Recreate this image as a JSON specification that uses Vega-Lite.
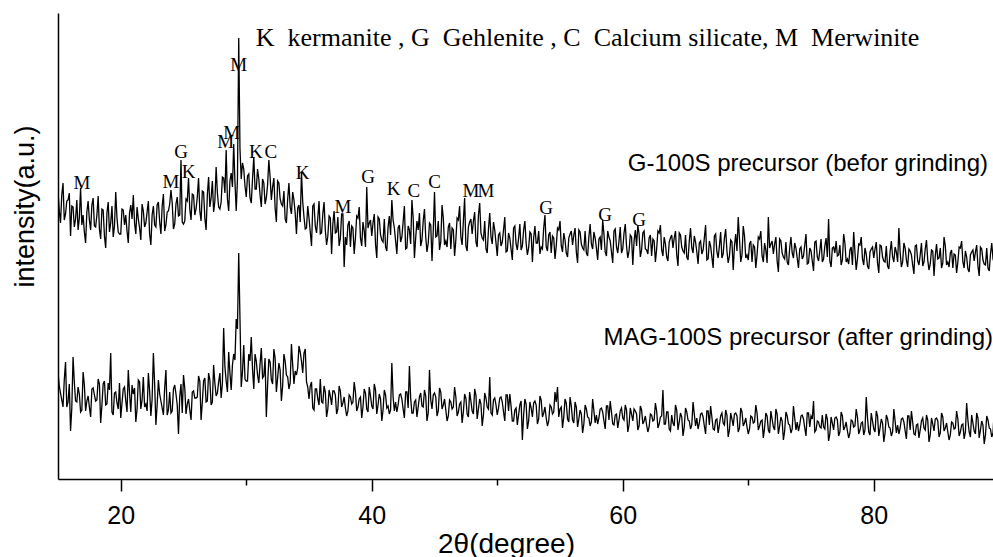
{
  "$schema": "https://vega.github.io/schema/vega-lite/v6.json",
  "width": 935,
  "height": 466,
  "autosize": {"type": "none"},
  "padding": {"left": 58, "top": 13, "right": 0, "bottom": 78},
  "background": "white",
  "config": {"view": {"stroke": null}, "axis": {"grid": false}},
  "datasets": {
    "xrd": [
      {"x":15,"a":288,"b":107},{"x":15.2,"a":256,"b":86},{"x":15.4,"a":296,"b":72},{"x":15.6,"a":265,"b":117},{"x":15.8,"a":279,"b":77},
      {"x":16,"a":243,"b":48},{"x":16.2,"a":272,"b":122},{"x":16.4,"a":260,"b":78},{"x":16.6,"a":249,"b":92},{"x":16.8,"a":291,"b":67},
      {"x":17,"a":264,"b":107},{"x":17.2,"a":236,"b":68},{"x":17.4,"a":278,"b":83},{"x":17.6,"a":249,"b":62},{"x":17.8,"a":281,"b":91},
      {"x":18,"a":252,"b":78},{"x":18.2,"a":283,"b":100},{"x":18.4,"a":240,"b":56},{"x":18.6,"a":269,"b":95},{"x":18.8,"a":231,"b":74},
      {"x":19,"a":277,"b":96},{"x":19.2,"a":256,"b":126},{"x":19.4,"a":242,"b":64},{"x":19.6,"a":287,"b":87},{"x":19.8,"a":247,"b":70},
      {"x":20,"a":245,"b":61},{"x":20.2,"a":269,"b":90},{"x":20.4,"a":264,"b":78},{"x":20.6,"a":236,"b":109},{"x":20.8,"a":274,"b":67},
      {"x":21,"a":284,"b":85},{"x":21.2,"a":245,"b":57},{"x":21.4,"a":260,"b":99},{"x":21.6,"a":239,"b":70},{"x":21.8,"a":268,"b":102},
      {"x":22,"a":256,"b":75},{"x":22.2,"a":278,"b":106},{"x":22.4,"a":234,"b":63},{"x":22.6,"a":273,"b":126},{"x":22.8,"a":252,"b":54},
      {"x":23,"a":277,"b":99},{"x":23.2,"a":245,"b":78},{"x":23.4,"a":285,"b":64},{"x":23.6,"a":254,"b":109},{"x":23.8,"a":268,"b":69},
      {"x":24,"a":289,"b":66},{"x":24.2,"a":250,"b":90},{"x":24.4,"a":275,"b":85},{"x":24.6,"a":263,"b":45},{"x":24.8,"a":319,"b":95},
      {"x":25,"a":255,"b":104},{"x":25.2,"a":280,"b":65},{"x":25.4,"a":301,"b":80},{"x":25.6,"a":259,"b":59},{"x":25.8,"a":284,"b":88},
      {"x":26,"a":270,"b":81},{"x":26.2,"a":301,"b":103},{"x":26.4,"a":258,"b":59},{"x":26.6,"a":287,"b":98},{"x":26.8,"a":249,"b":77},
      {"x":27,"a":302,"b":106},{"x":27.2,"a":281,"b":74},{"x":27.4,"a":267,"b":114},{"x":27.6,"a":312,"b":83},{"x":27.8,"a":272,"b":97},
      {"x":28,"a":277,"b":81},{"x":28.2,"a":301,"b":151},{"x":28.4,"a":329,"b":98},{"x":28.6,"a":268,"b":127},{"x":28.8,"a":306,"b":89},
      {"x":29,"a":335,"b":125},{"x":29.2,"a":268,"b":160},{"x":29.4,"a":441,"b":226},{"x":29.6,"a":300,"b":92},{"x":29.8,"a":310,"b":134},
      {"x":30,"a":282,"b":98},{"x":30.2,"a":305,"b":125},{"x":30.4,"a":276,"b":142},{"x":30.6,"a":322,"b":90},{"x":30.8,"a":290,"b":118},
      {"x":31,"a":300,"b":96},{"x":31.2,"a":272,"b":131},{"x":31.4,"a":296,"b":103},{"x":31.6,"a":281,"b":62},{"x":31.8,"a":319,"b":120},
      {"x":32,"a":279,"b":99},{"x":32.2,"a":301,"b":130},{"x":32.4,"a":257,"b":87},{"x":32.6,"a":296,"b":116},{"x":32.8,"a":275,"b":78},
      {"x":33,"a":288,"b":125},{"x":33.2,"a":256,"b":104},{"x":33.4,"a":296,"b":90},{"x":33.6,"a":265,"b":135},{"x":33.8,"a":279,"b":95},
      {"x":34,"a":245,"b":104},{"x":34.2,"a":274,"b":133},{"x":34.4,"a":307,"b":118},{"x":34.6,"a":262,"b":126},{"x":34.8,"a":251,"b":97},
      {"x":35,"a":261,"b":80},{"x":35.2,"a":233,"b":97},{"x":35.4,"a":275,"b":69},{"x":35.6,"a":246,"b":90},{"x":35.8,"a":278,"b":74},
      {"x":36,"a":246,"b":77},{"x":36.2,"a":277,"b":93},{"x":36.4,"a":234,"b":62},{"x":36.6,"a":263,"b":89},{"x":36.8,"a":225,"b":74},
      {"x":37,"a":268,"b":88},{"x":37.2,"a":247,"b":65},{"x":37.4,"a":233,"b":93},{"x":37.6,"a":265,"b":72},{"x":37.8,"a":212,"b":82},
      {"x":38,"a":234,"b":63},{"x":38.2,"a":258,"b":84},{"x":38.4,"a":253,"b":75},{"x":38.6,"a":225,"b":97},{"x":38.8,"a":263,"b":68},
      {"x":39,"a":272,"b":80},{"x":39.2,"a":233,"b":61},{"x":39.4,"a":248,"b":90},{"x":39.6,"a":292,"b":70},{"x":39.8,"a":256,"b":92},
      {"x":40,"a":243,"b":73},{"x":40.2,"a":265,"b":95},{"x":40.4,"a":221,"b":65},{"x":40.6,"a":260,"b":85},{"x":40.8,"a":239,"b":58},
      {"x":41,"a":260,"b":89},{"x":41.2,"a":228,"b":71},{"x":41.4,"a":263,"b":65},{"x":41.6,"a":279,"b":116},{"x":41.8,"a":251,"b":68},
      {"x":42,"a":225,"b":67},{"x":42.2,"a":254,"b":84},{"x":42.4,"a":242,"b":80},{"x":42.6,"a":273,"b":61},{"x":42.8,"a":231,"b":87},
      {"x":43,"a":249,"b":113},{"x":43.2,"a":279,"b":66},{"x":43.4,"a":221,"b":77},{"x":43.6,"a":258,"b":62},{"x":43.8,"a":266,"b":82},
      {"x":44,"a":239,"b":73},{"x":44.2,"a":270,"b":89},{"x":44.4,"a":227,"b":58},{"x":44.6,"a":256,"b":109},{"x":44.8,"a":218,"b":70},
      {"x":45,"a":287,"b":86},{"x":45.2,"a":243,"b":63},{"x":45.4,"a":229,"b":91},{"x":45.6,"a":274,"b":70},{"x":45.8,"a":234,"b":80},
      {"x":46,"a":232,"b":58},{"x":46.2,"a":256,"b":79},{"x":46.4,"a":251,"b":70},{"x":46.6,"a":223,"b":92},{"x":46.8,"a":261,"b":63},
      {"x":47,"a":273,"b":75},{"x":47.2,"a":234,"b":56},{"x":47.4,"a":281,"b":85},{"x":47.6,"a":228,"b":65},{"x":47.8,"a":257,"b":87},
      {"x":48,"a":245,"b":68},{"x":48.2,"a":267,"b":90},{"x":48.4,"a":232,"b":60},{"x":48.6,"a":276,"b":80},{"x":48.8,"a":241,"b":53},
      {"x":49,"a":258,"b":86},{"x":49.2,"a":226,"b":72},{"x":49.4,"a":266,"b":102},{"x":49.6,"a":235,"b":64},{"x":49.8,"a":249,"b":81},
      {"x":50,"a":223,"b":64},{"x":50.2,"a":246,"b":81},{"x":50.4,"a":237,"b":77},{"x":50.6,"a":262,"b":58},{"x":50.8,"a":228,"b":84},
      {"x":51,"a":241,"b":85},{"x":51.2,"a":219,"b":58},{"x":51.4,"a":253,"b":69},{"x":51.6,"a":229,"b":54},{"x":51.8,"a":255,"b":74},
      {"x":52,"a":233,"b":39},{"x":52.2,"a":258,"b":80},{"x":52.4,"a":224,"b":50},{"x":52.6,"a":247,"b":77},{"x":52.8,"a":217,"b":62},
      {"x":53,"a":253,"b":78},{"x":53.2,"a":236,"b":55},{"x":53.4,"a":225,"b":83},{"x":53.6,"a":230,"b":62},{"x":53.8,"a":264,"b":72},
      {"x":54,"a":228,"b":53},{"x":54.2,"a":247,"b":74},{"x":54.4,"a":243,"b":65},{"x":54.6,"a":220,"b":87},{"x":54.8,"a":251,"b":92},
      {"x":55,"a":258,"b":70},{"x":55.2,"a":227,"b":51},{"x":55.4,"a":239,"b":80},{"x":55.6,"a":222,"b":60},{"x":55.8,"a":245,"b":82},
      {"x":56,"a":234,"b":59},{"x":56.2,"a":251,"b":77},{"x":56.4,"a":216,"b":52},{"x":56.6,"a":247,"b":69},{"x":56.8,"a":231,"b":46},
      {"x":57,"a":248,"b":74},{"x":57.2,"a":223,"b":62},{"x":57.4,"a":255,"b":53},{"x":57.6,"a":230,"b":80},{"x":57.8,"a":241,"b":56},
      {"x":58,"a":219,"b":55},{"x":58.2,"a":242,"b":70},{"x":58.4,"a":259,"b":67},{"x":58.6,"a":227,"b":50},{"x":58.8,"a":248,"b":73},
      {"x":59,"a":238,"b":78},{"x":59.2,"a":216,"b":55},{"x":59.4,"a":250,"b":64},{"x":59.6,"a":226,"b":51},{"x":59.8,"a":252,"b":68},
      {"x":60,"a":230,"b":61},{"x":60.2,"a":255,"b":74},{"x":60.4,"a":221,"b":47},{"x":60.6,"a":244,"b":71},{"x":60.8,"a":214,"b":58},
      {"x":61,"a":249,"b":68},{"x":61.2,"a":254,"b":49},{"x":61.4,"a":222,"b":73},{"x":61.6,"a":246,"b":55},{"x":61.8,"a":230,"b":63},
      {"x":62,"a":225,"b":47},{"x":62.2,"a":244,"b":65},{"x":62.4,"a":240,"b":58},{"x":62.6,"a":217,"b":76},{"x":62.8,"a":248,"b":51},
      {"x":63,"a":254,"b":62},{"x":63.2,"a":223,"b":89},{"x":63.4,"a":235,"b":55},{"x":63.6,"a":218,"b":67},{"x":63.8,"a":241,"b":48},
      {"x":64,"a":231,"b":56},{"x":64.2,"a":248,"b":74},{"x":64.4,"a":213,"b":49},{"x":64.6,"a":244,"b":66},{"x":64.8,"a":228,"b":43},
      {"x":65,"a":244,"b":71},{"x":65.2,"a":219,"b":59},{"x":65.4,"a":251,"b":50},{"x":65.6,"a":226,"b":77},{"x":65.8,"a":237,"b":53},
      {"x":66,"a":215,"b":50},{"x":66.2,"a":238,"b":65},{"x":66.4,"a":229,"b":62},{"x":66.6,"a":254,"b":45},{"x":66.8,"a":220,"b":68},
      {"x":67,"a":233,"b":73},{"x":67.2,"a":211,"b":50},{"x":67.4,"a":245,"b":59},{"x":67.6,"a":221,"b":46},{"x":67.8,"a":247,"b":63},
      {"x":68,"a":225,"b":56},{"x":68.2,"a":250,"b":69},{"x":68.4,"a":216,"b":42},{"x":68.6,"a":239,"b":66},{"x":68.8,"a":209,"b":53},
      {"x":69,"a":245,"b":66},{"x":69.2,"a":262,"b":47},{"x":69.4,"a":217,"b":71},{"x":69.6,"a":253,"b":53},{"x":69.8,"a":221,"b":61},
      {"x":70,"a":219,"b":45},{"x":70.2,"a":238,"b":63},{"x":70.4,"a":234,"b":56},{"x":70.6,"a":211,"b":74},{"x":70.8,"a":242,"b":49},
      {"x":71,"a":248,"b":58},{"x":71.2,"a":217,"b":41},{"x":71.4,"a":229,"b":66},{"x":71.6,"a":262,"b":49},{"x":71.8,"a":235,"b":68},
      {"x":72,"a":225,"b":52},{"x":72.2,"a":242,"b":70},{"x":72.4,"a":207,"b":45},{"x":72.6,"a":238,"b":62},{"x":72.8,"a":222,"b":39},
      {"x":73,"a":237,"b":67},{"x":73.2,"a":214,"b":55},{"x":73.4,"a":242,"b":46},{"x":73.6,"a":221,"b":73},{"x":73.8,"a":231,"b":49},
      {"x":74,"a":211,"b":48},{"x":74.2,"a":232,"b":63},{"x":74.4,"a":223,"b":60},{"x":74.6,"a":245,"b":43},{"x":74.8,"a":216,"b":66},
      {"x":75,"a":228,"b":63},{"x":75.2,"a":208,"b":78},{"x":75.4,"a":238,"b":49},{"x":75.6,"a":218,"b":57},{"x":75.8,"a":240,"b":51},
      {"x":76,"a":220,"b":52},{"x":76.2,"a":241,"b":65},{"x":76.4,"a":260,"b":38},{"x":76.6,"a":212,"b":62},{"x":76.8,"a":232,"b":49},
      {"x":77,"a":238,"b":62},{"x":77.2,"a":224,"b":43},{"x":77.4,"a":214,"b":67},{"x":77.6,"a":245,"b":49},{"x":77.8,"a":217,"b":57},
      {"x":78,"a":215,"b":41},{"x":78.2,"a":232,"b":59},{"x":78.4,"a":247,"b":52},{"x":78.6,"a":209,"b":70},{"x":78.8,"a":235,"b":45},
      {"x":79,"a":242,"b":56},{"x":79.2,"a":214,"b":44},{"x":79.4,"a":225,"b":82},{"x":79.6,"a":210,"b":47},{"x":79.8,"a":230,"b":66},
      {"x":80,"a":221,"b":50},{"x":80.2,"a":237,"b":68},{"x":80.4,"a":206,"b":43},{"x":80.6,"a":233,"b":60},{"x":80.8,"a":218,"b":37},
      {"x":81,"a":233,"b":64},{"x":81.2,"a":210,"b":52},{"x":81.4,"a":238,"b":43},{"x":81.6,"a":217,"b":70},{"x":81.8,"a":227,"b":46},
      {"x":82,"a":251,"b":45},{"x":82.2,"a":212,"b":60},{"x":82.4,"a":236,"b":57},{"x":82.6,"a":219,"b":40},{"x":82.8,"a":230,"b":63},
      {"x":83,"a":224,"b":68},{"x":83.2,"a":205,"b":45},{"x":83.4,"a":234,"b":54},{"x":83.6,"a":214,"b":41},{"x":83.8,"a":236,"b":58},
      {"x":84,"a":217,"b":51},{"x":84.2,"a":239,"b":64},{"x":84.4,"a":209,"b":37},{"x":84.6,"a":229,"b":61},{"x":84.8,"a":203,"b":48},
      {"x":85,"a":235,"b":61},{"x":85.2,"a":221,"b":42},{"x":85.4,"a":211,"b":66},{"x":85.6,"a":242,"b":48},{"x":85.8,"a":214,"b":56},
      {"x":86,"a":212,"b":39},{"x":86.2,"a":229,"b":57},{"x":86.4,"a":225,"b":50},{"x":86.6,"a":206,"b":68},{"x":86.8,"a":232,"b":43},
      {"x":87,"a":238,"b":54},{"x":87.2,"a":211,"b":40},{"x":87.4,"a":222,"b":76},{"x":87.6,"a":207,"b":47},{"x":87.8,"a":227,"b":64},
      {"x":88,"a":218,"b":48},{"x":88.2,"a":234,"b":66},{"x":88.4,"a":203,"b":41},{"x":88.6,"a":230,"b":58},{"x":88.8,"a":215,"b":35},
      {"x":89,"a":231,"b":63},{"x":89.2,"a":208,"b":51},{"x":89.4,"a":236,"b":42},{"x":89.6,"a":216,"b":69},
      {"x":15.1,"a":268,"b":93},{"x":15.3,"a":284,"b":79},{"x":15.5,"a":259,"b":99},{"x":15.7,"a":278,"b":72},{"x":15.9,"a":286,"b":95},
      {"x":16.1,"a":273,"b":71},{"x":16.3,"a":252,"b":97},{"x":16.5,"a":279,"b":77},{"x":16.7,"a":261,"b":85},{"x":16.9,"a":254,"b":69},
      {"x":17.1,"a":247,"b":94},{"x":17.3,"a":267,"b":78},{"x":17.5,"a":259,"b":72},{"x":17.7,"a":274,"b":90},{"x":17.9,"a":253,"b":84},
      {"x":18.1,"a":264,"b":79},{"x":18.3,"a":250,"b":95},{"x":18.5,"a":270,"b":74},{"x":18.7,"a":243,"b":98},{"x":18.9,"a":266,"b":75},
      {"x":19.1,"a":247,"b":89},{"x":19.3,"a":273,"b":67},{"x":19.5,"a":253,"b":86},{"x":19.7,"a":261,"b":76},{"x":19.9,"a":245,"b":96},
      {"x":20.1,"a":270,"b":76},{"x":20.3,"a":254,"b":92},{"x":20.5,"a":248,"b":67},{"x":20.7,"a":266,"b":86},{"x":20.9,"a":260,"b":94},
      {"x":21.1,"a":256,"b":91},{"x":21.3,"a":272,"b":70},{"x":21.5,"a":251,"b":97},{"x":21.7,"a":275,"b":79},{"x":21.9,"a":252,"b":72},
      {"x":22.1,"a":267,"b":68},{"x":22.3,"a":245,"b":88},{"x":22.5,"a":264,"b":80},{"x":22.7,"a":254,"b":95},{"x":22.9,"a":274,"b":74},
      {"x":23.1,"a":257,"b":85},{"x":23.3,"a":273,"b":71},{"x":23.5,"a":248,"b":91},{"x":23.7,"a":267,"b":64},{"x":23.9,"a":275,"b":87},
      {"x":24.1,"a":276,"b":68},{"x":24.3,"a":255,"b":94},{"x":24.5,"a":282,"b":74},{"x":24.7,"a":264,"b":82},{"x":24.9,"a":257,"b":66},
      {"x":25.1,"a":258,"b":91},{"x":25.3,"a":278,"b":75},{"x":25.5,"a":270,"b":69},{"x":25.7,"a":285,"b":87},{"x":25.9,"a":264,"b":81},
      {"x":26.1,"a":282,"b":82},{"x":26.3,"a":268,"b":98},{"x":26.5,"a":288,"b":77},{"x":26.7,"a":261,"b":101},{"x":26.9,"a":284,"b":78},
      {"x":27.1,"a":272,"b":99},{"x":27.3,"a":298,"b":77},{"x":27.5,"a":278,"b":96},{"x":27.7,"a":286,"b":86},{"x":27.9,"a":270,"b":106},
      {"x":28.1,"a":302,"b":96},{"x":28.3,"a":286,"b":112},{"x":28.5,"a":280,"b":87},{"x":28.7,"a":298,"b":106},{"x":28.9,"a":292,"b":114},
      {"x":29.1,"a":297,"b":119},{"x":29.3,"a":300,"b":150},{"x":29.5,"a":330,"b":160},{"x":29.7,"a":316,"b":107},{"x":29.9,"a":293,"b":100},
      {"x":30.1,"a":303,"b":98},{"x":30.3,"a":281,"b":118},{"x":30.5,"a":300,"b":110},{"x":30.7,"a":290,"b":125},{"x":30.9,"a":310,"b":104},
      {"x":31.1,"a":284,"b":115},{"x":31.3,"a":300,"b":101},{"x":31.5,"a":275,"b":121},{"x":31.7,"a":294,"b":94},{"x":31.9,"a":302,"b":117},
      {"x":32.1,"a":292,"b":95},{"x":32.3,"a":271,"b":121},{"x":32.5,"a":298,"b":101},{"x":32.7,"a":280,"b":109},{"x":32.9,"a":273,"b":93},
      {"x":33.1,"a":260,"b":118},{"x":33.3,"a":280,"b":102},{"x":33.5,"a":272,"b":96},{"x":33.7,"a":287,"b":114},{"x":33.9,"a":266,"b":108},
      {"x":34.1,"a":271,"b":111},{"x":34.3,"a":257,"b":127},{"x":34.5,"a":277,"b":106},{"x":34.7,"a":250,"b":130},{"x":34.9,"a":273,"b":92},
      {"x":35.1,"a":247,"b":93},{"x":35.3,"a":273,"b":71},{"x":35.5,"a":253,"b":90},{"x":35.7,"a":261,"b":80},{"x":35.9,"a":245,"b":100},
      {"x":36.1,"a":265,"b":76},{"x":36.3,"a":249,"b":87},{"x":36.5,"a":243,"b":70},{"x":36.7,"a":261,"b":83},{"x":36.9,"a":255,"b":88},
      {"x":37.1,"a":246,"b":84},{"x":37.3,"a":262,"b":70},{"x":37.5,"a":241,"b":88},{"x":37.7,"a":265,"b":76},{"x":37.9,"a":242,"b":71},
      {"x":38.1,"a":254,"b":68},{"x":38.3,"a":232,"b":82},{"x":38.5,"a":251,"b":77},{"x":38.7,"a":241,"b":87},{"x":38.9,"a":261,"b":72},
      {"x":39.1,"a":241,"b":82},{"x":39.3,"a":257,"b":72},{"x":39.5,"a":232,"b":86},{"x":39.7,"a":251,"b":67},{"x":39.9,"a":259,"b":83},
      {"x":40.1,"a":256,"b":70},{"x":40.3,"a":235,"b":89},{"x":40.5,"a":262,"b":74},{"x":40.7,"a":244,"b":80},{"x":40.9,"a":237,"b":69},
      {"x":41.1,"a":232,"b":84},{"x":41.3,"a":252,"b":73},{"x":41.5,"a":244,"b":69},{"x":41.7,"a":259,"b":82},{"x":41.9,"a":238,"b":77},
      {"x":42.1,"a":251,"b":74},{"x":42.3,"a":237,"b":85},{"x":42.5,"a":257,"b":70},{"x":42.7,"a":230,"b":87},{"x":42.9,"a":253,"b":71},
      {"x":43.1,"a":235,"b":81},{"x":43.3,"a":261,"b":66},{"x":43.5,"a":241,"b":79},{"x":43.7,"a":249,"b":72},{"x":43.9,"a":233,"b":86},
      {"x":44.1,"a":258,"b":72},{"x":44.3,"a":242,"b":83},{"x":44.5,"a":236,"b":66},{"x":44.7,"a":254,"b":79},{"x":44.9,"a":248,"b":84},
      {"x":45.1,"a":242,"b":82},{"x":45.3,"a":258,"b":68},{"x":45.5,"a":237,"b":87},{"x":45.7,"a":261,"b":74},{"x":45.9,"a":238,"b":69},
      {"x":46.1,"a":252,"b":63},{"x":46.3,"a":230,"b":77},{"x":46.5,"a":249,"b":72},{"x":46.7,"a":239,"b":82},{"x":46.9,"a":259,"b":67},
      {"x":47.1,"a":242,"b":77},{"x":47.3,"a":258,"b":67},{"x":47.5,"a":233,"b":81},{"x":47.7,"a":252,"b":62},{"x":47.9,"a":260,"b":78},
      {"x":48.1,"a":258,"b":65},{"x":48.3,"a":237,"b":84},{"x":48.5,"a":264,"b":70},{"x":48.7,"a":246,"b":75},{"x":48.9,"a":239,"b":64},
      {"x":49.1,"a":230,"b":81},{"x":49.3,"a":250,"b":70},{"x":49.5,"a":242,"b":66},{"x":49.7,"a":257,"b":79},{"x":49.9,"a":236,"b":74},
      {"x":50.1,"a":244,"b":71},{"x":50.3,"a":233,"b":82},{"x":50.5,"a":249,"b":67},{"x":50.7,"a":227,"b":84},{"x":50.9,"a":246,"b":68},
      {"x":51.1,"a":230,"b":73},{"x":51.3,"a":251,"b":58},{"x":51.5,"a":235,"b":71},{"x":51.7,"a":241,"b":64},{"x":51.9,"a":229,"b":78},
      {"x":52.1,"a":249,"b":64},{"x":52.3,"a":236,"b":75},{"x":52.5,"a":231,"b":58},{"x":52.7,"a":245,"b":71},{"x":52.9,"a":241,"b":76},
      {"x":53.1,"a":236,"b":74},{"x":53.3,"a":248,"b":60},{"x":53.5,"a":232,"b":79},{"x":53.7,"a":251,"b":66},{"x":53.9,"a":232,"b":61},
      {"x":54.1,"a":244,"b":58},{"x":54.3,"a":226,"b":72},{"x":54.5,"a":241,"b":67},{"x":54.7,"a":233,"b":77},{"x":54.9,"a":249,"b":62},
      {"x":55.1,"a":233,"b":72},{"x":55.3,"a":246,"b":62},{"x":55.5,"a":226,"b":76},{"x":55.7,"a":241,"b":57},{"x":55.9,"a":248,"b":73},
      {"x":56.1,"a":244,"b":56},{"x":56.3,"a":227,"b":72},{"x":56.5,"a":249,"b":60},{"x":56.7,"a":235,"b":65},{"x":56.9,"a":229,"b":55},
      {"x":57.1,"a":226,"b":70},{"x":57.3,"a":242,"b":61},{"x":57.5,"a":235,"b":57},{"x":57.7,"a":247,"b":68},{"x":57.9,"a":231,"b":64},
      {"x":58.1,"a":240,"b":61},{"x":58.3,"a":229,"b":71},{"x":58.5,"a":245,"b":58},{"x":58.7,"a":223,"b":73},{"x":58.9,"a":242,"b":59},
      {"x":59.1,"a":227,"b":67},{"x":59.3,"a":248,"b":54},{"x":59.5,"a":232,"b":65},{"x":59.7,"a":238,"b":59},{"x":59.9,"a":226,"b":71},
      {"x":60.1,"a":246,"b":59},{"x":60.3,"a":233,"b":69},{"x":60.5,"a":228,"b":54},{"x":60.7,"a":242,"b":65},{"x":60.9,"a":238,"b":70},
      {"x":61.1,"a":233,"b":65},{"x":61.3,"a":245,"b":53},{"x":61.5,"a":229,"b":69},{"x":61.7,"a":248,"b":58},{"x":61.9,"a":229,"b":54},
      {"x":62.1,"a":241,"b":52},{"x":62.3,"a":223,"b":64},{"x":62.5,"a":238,"b":59},{"x":62.7,"a":230,"b":68},{"x":62.9,"a":246,"b":55},
      {"x":63.1,"a":229,"b":63},{"x":63.3,"a":242,"b":55},{"x":63.5,"a":222,"b":67},{"x":63.7,"a":237,"b":50},{"x":63.9,"a":244,"b":64},
      {"x":64.1,"a":241,"b":53},{"x":64.3,"a":224,"b":69},{"x":64.5,"a":246,"b":57},{"x":64.7,"a":232,"b":62},{"x":64.9,"a":226,"b":52},
      {"x":65.1,"a":222,"b":67},{"x":65.3,"a":238,"b":58},{"x":65.5,"a":231,"b":54},{"x":65.7,"a":243,"b":65},{"x":65.9,"a":227,"b":61},
      {"x":66.1,"a":236,"b":56},{"x":66.3,"a":225,"b":66},{"x":66.5,"a":241,"b":53},{"x":66.7,"a":219,"b":68},{"x":66.9,"a":238,"b":54},
      {"x":67.1,"a":222,"b":62},{"x":67.3,"a":243,"b":49},{"x":67.5,"a":227,"b":60},{"x":67.7,"a":233,"b":54},{"x":67.9,"a":221,"b":66},
      {"x":68.1,"a":241,"b":54},{"x":68.3,"a":228,"b":64},{"x":68.5,"a":223,"b":49},{"x":68.7,"a":237,"b":60},{"x":68.9,"a":233,"b":65},
      {"x":69.1,"a":228,"b":63},{"x":69.3,"a":240,"b":51},{"x":69.5,"a":224,"b":67},{"x":69.7,"a":243,"b":56},{"x":69.9,"a":224,"b":52},
      {"x":70.1,"a":235,"b":50},{"x":70.3,"a":217,"b":62},{"x":70.5,"a":232,"b":57},{"x":70.7,"a":224,"b":66},{"x":70.9,"a":240,"b":53},
      {"x":71.1,"a":223,"b":59},{"x":71.3,"a":236,"b":51},{"x":71.5,"a":216,"b":63},{"x":71.7,"a":231,"b":46},{"x":71.9,"a":238,"b":60},
      {"x":72.1,"a":235,"b":49},{"x":72.3,"a":218,"b":65},{"x":72.5,"a":240,"b":53},{"x":72.7,"a":226,"b":58},{"x":72.9,"a":220,"b":48},
      {"x":73.1,"a":217,"b":63},{"x":73.3,"a":231,"b":54},{"x":73.5,"a":226,"b":50},{"x":73.7,"a":236,"b":61},{"x":73.9,"a":221,"b":57},
      {"x":74.1,"a":230,"b":54},{"x":74.3,"a":220,"b":64},{"x":74.5,"a":234,"b":51},{"x":74.7,"a":215,"b":66},{"x":74.9,"a":231,"b":52},
      {"x":75.1,"a":218,"b":60},{"x":75.3,"a":237,"b":47},{"x":75.5,"a":222,"b":58},{"x":75.7,"a":228,"b":52},{"x":75.9,"a":217,"b":64},
      {"x":76.1,"a":233,"b":50},{"x":76.3,"a":222,"b":60},{"x":76.5,"a":218,"b":45},{"x":76.7,"a":231,"b":56},{"x":76.9,"a":226,"b":61},
      {"x":77.1,"a":223,"b":59},{"x":77.3,"a":234,"b":47},{"x":77.5,"a":219,"b":63},{"x":77.7,"a":236,"b":52},{"x":77.9,"a":220,"b":48},
      {"x":78.1,"a":229,"b":46},{"x":78.3,"a":214,"b":58},{"x":78.5,"a":227,"b":53},{"x":78.7,"a":220,"b":62},{"x":78.9,"a":234,"b":49},
      {"x":79.1,"a":220,"b":57},{"x":79.3,"a":231,"b":49},{"x":79.5,"a":213,"b":61},{"x":79.7,"a":227,"b":44},{"x":79.9,"a":232,"b":58},
      {"x":80.1,"a":230,"b":47},{"x":80.3,"a":216,"b":63},{"x":80.5,"a":234,"b":51},{"x":80.7,"a":222,"b":56},{"x":80.9,"a":217,"b":46},
      {"x":81.1,"a":213,"b":60},{"x":81.3,"a":227,"b":51},{"x":81.5,"a":222,"b":47},{"x":81.7,"a":232,"b":58},{"x":81.9,"a":217,"b":54},
      {"x":82.1,"a":227,"b":51},{"x":82.3,"a":217,"b":61},{"x":82.5,"a":231,"b":48},{"x":82.7,"a":212,"b":63},{"x":82.9,"a":228,"b":49},
      {"x":83.1,"a":214,"b":57},{"x":83.3,"a":233,"b":44},{"x":83.5,"a":218,"b":55},{"x":83.7,"a":224,"b":49},{"x":83.9,"a":213,"b":61},
      {"x":84.1,"a":230,"b":49},{"x":84.3,"a":219,"b":59},{"x":84.5,"a":215,"b":44},{"x":84.7,"a":228,"b":55},{"x":84.9,"a":223,"b":60},
      {"x":85.1,"a":220,"b":58},{"x":85.3,"a":231,"b":46},{"x":85.5,"a":216,"b":62},{"x":85.7,"a":233,"b":51},{"x":85.9,"a":217,"b":47},
      {"x":86.1,"a":226,"b":44},{"x":86.3,"a":211,"b":56},{"x":86.5,"a":224,"b":51},{"x":86.7,"a":217,"b":60},{"x":86.9,"a":231,"b":47},
      {"x":87.1,"a":217,"b":55},{"x":87.3,"a":228,"b":47},{"x":87.5,"a":210,"b":59},{"x":87.7,"a":224,"b":42},{"x":87.9,"a":229,"b":56},
      {"x":88.1,"a":227,"b":45},{"x":88.3,"a":213,"b":61},{"x":88.5,"a":232,"b":49},{"x":88.7,"a":219,"b":54},{"x":88.9,"a":214,"b":44},
      {"x":89.1,"a":211,"b":59},{"x":89.3,"a":225,"b":50},{"x":89.5,"a":220,"b":46}
    ],
    "letters": [
      {"x":16.9,"h":296,"t":"M"},{"x":24.0,"h":297,"t":"M"},{"x":24.8,"h":327,"t":"G"},{"x":25.4,"h":307,"t":"K"},
      {"x":28.37,"h":337,"t":"M"},{"x":28.84,"h":346,"t":"M"},{"x":29.4,"h":414,"t":"M"},{"x":30.76,"h":327,"t":"K"},
      {"x":31.95,"h":327,"t":"C"},{"x":34.5,"h":306,"t":"K"},{"x":37.7,"h":272,"t":"M"},{"x":39.7,"h":302,"t":"G"},
      {"x":41.75,"h":290,"t":"K"},{"x":43.35,"h":288,"t":"C"},{"x":45.0,"h":297,"t":"C"},{"x":47.9,"h":288,"t":"M"},
      {"x":49.1,"h":288,"t":"M"},{"x":53.9,"h":271,"t":"G"},{"x":58.6,"h":264,"t":"G"},{"x":61.3,"h":259,"t":"G"}
    ],
    "key": [
      {"x":30.76,"h":441,"t":"K\u00a0 kermanite , G\u00a0 Gehlenite , C\u00a0 Calcium silicate, M\u00a0 Merwinite"}
    ],
    "names": [
      {"x":89.1,"h":315,"t":"G-100S precursor (befor grinding)"},
      {"x":89.5,"h":141,"t":"MAG-100S precursor (after grinding)"}
    ]
  },
  "resolve": {"axis": {"x": "independent"}},
  "layer": [
    {
      "data": {"name": "xrd"},
      "transform": [{"fold": ["a", "b"], "as": ["s", "h"]}],
      "mark": {"type": "line", "color": "black", "strokeWidth": 1.3, "clip": true},
      "encoding": {
        "x": {
          "field": "x", "type": "quantitative",
          "scale": {"domain": [15, 89.5], "nice": false, "zero": false},
          "axis": {
            "values": [20, 40, 60, 80], "tickSize": 12, "tickWidth": 1.5, "tickColor": "black",
            "domainColor": "black", "domainWidth": 1.5,
            "labelFont": "Liberation Sans", "labelFontSize": 25, "labelColor": "black",
            "labelBaseline": "alphabetic", "labelPadding": 32,
            "title": "2θ(degree)", "titleFont": "Liberation Sans", "titleFontSize": 28,
            "titleFontWeight": "normal", "titleColor": "black",
            "titleX": 448, "titleY": 73, "titleBaseline": "alphabetic", "titleAnchor": "middle", "titleAlign": "center"
          }
        },
        "y": {
          "field": "h", "type": "quantitative",
          "scale": {"domain": [0, 466], "nice": false, "zero": false},
          "axis": {
            "ticks": false, "labels": false, "domainColor": "black", "domainWidth": 1.5,
            "title": "intensity(a.u.)", "titleFont": "Liberation Sans", "titleFontSize": 27,
            "titleFontWeight": "normal", "titleColor": "black",
            "titleX": -25, "titleY": 193, "titleBaseline": "alphabetic", "titleAlign": "center", "titleAngle": -90
          }
        },
        "detail": {"field": "s"}
      }
    },
    {
      "data": {"name": "letters"},
      "mark": {"type": "text", "font": "Liberation Serif", "fontSize": 19, "color": "black", "align": "center", "baseline": "middle"},
      "encoding": {
        "x": {
          "field": "x", "type": "quantitative",
          "axis": {"orient": "bottom", "values": [30, 50, 70], "tickSize": 6, "tickWidth": 1.5, "tickColor": "black", "domain": false, "labels": false, "title": null}
        },
        "y": {"field": "h", "type": "quantitative"},
        "text": {"field": "t"}
      }
    },
    {
      "data": {"name": "key"},
      "mark": {"type": "text", "font": "Liberation Serif", "fontSize": 26, "color": "black", "align": "left", "baseline": "middle"},
      "encoding": {
        "x": {"field": "x", "type": "quantitative", "axis": null},
        "y": {"field": "h", "type": "quantitative"},
        "text": {"field": "t"}
      }
    },
    {
      "data": {"name": "names"},
      "mark": {"type": "text", "font": "Liberation Sans", "fontSize": 24, "color": "black", "align": "right", "baseline": "middle"},
      "encoding": {
        "x": {"field": "x", "type": "quantitative", "axis": null},
        "y": {"field": "h", "type": "quantitative"},
        "text": {"field": "t"}
      }
    }
  ]
}
